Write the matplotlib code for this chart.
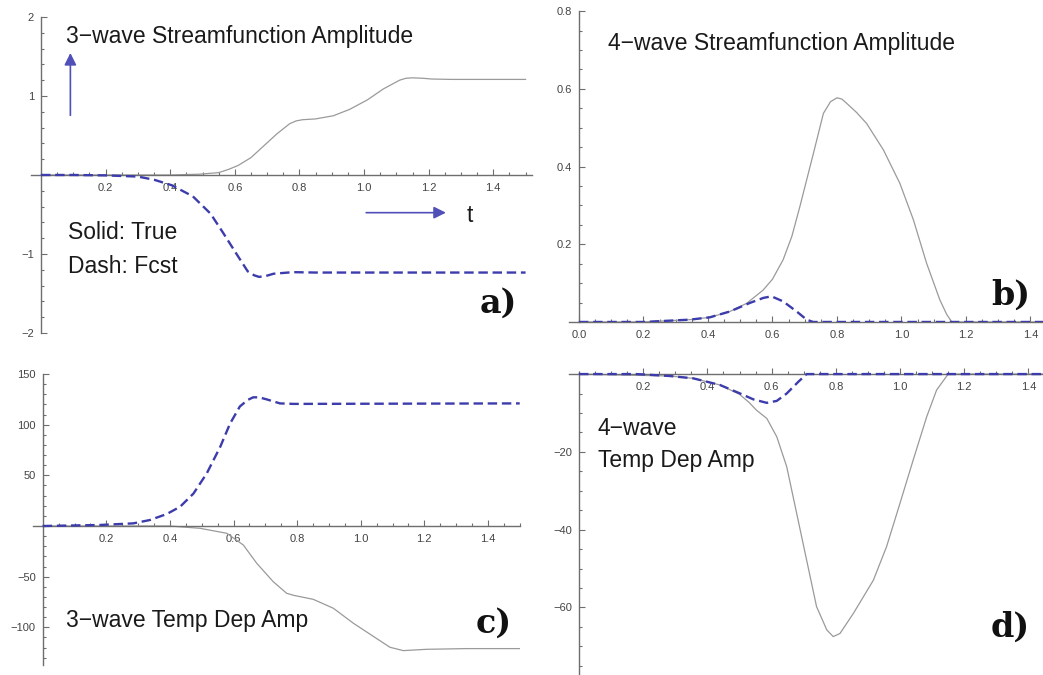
import matplotlib
matplotlib.use("Agg")
import matplotlib.pyplot as plt
from matplotlib.ticker import FixedLocator, FixedFormatter, MultipleLocator

# ---- data ----
# panel a: 3-wave streamfunction amplitude
a_true_t = [0, 0.2, 0.4, 0.49, 0.55, 0.58, 0.61, 0.65, 0.69, 0.73, 0.77, 0.79, 0.81, 0.85,
            0.905, 0.955, 1.01, 1.06, 1.11, 1.13, 1.15, 1.18, 1.21, 1.27, 1.5]
a_true = [0, 0, 0, 0.01, 0.03, 0.07, 0.12, 0.22, 0.37, 0.52, 0.65, 0.685, 0.70, 0.71,
          0.75, 0.83, 0.95, 1.09, 1.20, 1.225, 1.23, 1.225, 1.215, 1.21, 1.21]
a_fcst_t = [0, 0.1, 0.2, 0.3, 0.35, 0.405, 0.47, 0.525, 0.565, 0.61, 0.64, 0.66, 0.675,
            0.695, 0.72, 0.78, 0.85, 1.5]
a_fcst = [0, 0, -0.005, -0.02, -0.06, -0.13, -0.27, -0.49, -0.74, -1.03, -1.22, -1.27, -1.29,
          -1.28, -1.25, -1.23, -1.235, -1.235]

# panel b: 4-wave streamfunction amplitude
b_true_t = [0, 0.2, 0.344, 0.406, 0.468, 0.52, 0.571, 0.6, 0.633, 0.66, 0.685, 0.727, 0.758,
            0.78, 0.8, 0.815, 0.83, 0.86, 0.892, 0.944, 0.995, 1.037, 1.078, 1.119, 1.14,
            1.156, 1.5]
b_true = [0, 0, 0.006, 0.012, 0.027, 0.048, 0.082, 0.11, 0.16, 0.22, 0.297, 0.434, 0.537,
          0.567, 0.577, 0.574, 0.563, 0.54, 0.511, 0.443, 0.357, 0.263, 0.151, 0.057, 0.02,
          0, 0]
b_fcst_t = [0, 0.2, 0.344, 0.406, 0.468, 0.53, 0.572, 0.597, 0.633, 0.675, 0.706, 0.726, 1.5]
b_fcst = [0, 0, 0.006, 0.012, 0.027, 0.049, 0.062, 0.066, 0.053, 0.027, 0.006, 0, 0]

# panel c: 3-wave temp dep amp
c_true_t = [0, 0.3, 0.4, 0.495, 0.579, 0.631, 0.673, 0.725, 0.767, 0.79, 0.809, 0.851, 0.914,
            0.977, 1.04, 1.092, 1.134, 1.207, 1.333, 1.5]
c_true = [0, 0, 0, -2.3, -7.2, -18.8, -36.8, -55, -66.4, -68.5, -69.7, -72.4, -81.2,
          -96, -109, -119.7, -123, -121.7, -121, -121]
c_fcst_t = [0, 0.18, 0.285, 0.337, 0.39, 0.432, 0.474, 0.516, 0.558, 0.589, 0.62, 0.645,
            0.662, 0.68, 0.704, 0.746, 0.79, 1.5]
c_fcst = [0, 1, 2.6, 5.9, 11.8, 19, 32, 52, 78, 101, 118, 124.5, 127, 127, 125, 121, 120.5, 121]

# panel d: 4-wave temp dep amp
d_true_t = [0, 0.283, 0.356, 0.439, 0.5, 0.53, 0.553, 0.585, 0.616, 0.647, 0.678, 0.709,
            0.74, 0.772, 0.792, 0.813, 0.855, 0.917, 0.958, 1.0, 1.041, 1.083, 1.114, 1.15, 1.5]
d_true = [0, -0.5, -1.1, -2.8, -5.2, -7.3, -9.3, -11.4, -16.1, -23.8, -35.8, -47.8,
          -59.8, -65.8, -67.5, -66.7, -61.5, -53.0, -44.4, -33.2, -22.1, -11.0, -4.1, 0, 0]
d_fcst_t = [0, 0.18, 0.283, 0.356, 0.439, 0.502, 0.543, 0.585, 0.616, 0.647, 0.683, 0.709, 1.5]
d_fcst = [0, 0, -0.5, -1.1, -2.8, -5.0, -6.5, -7.4, -6.9, -5.0, -2.0, 0, 0]

# tick labels
a_xticks = [0.2, 0.4, 0.6, 0.8, 1.0, 1.2, 1.4]
a_yticks = [-2, -1, 1, 2]
b_xticks = [0.0, 0.2, 0.4, 0.6, 0.8, 1.0, 1.2, 1.4]
b_yticks = [0.2, 0.4, 0.6, 0.8]
c_yticks = [-100, -50, 50, 100, 150]
d_yticks = [-60, -40, -20]

TRUE_COLOR = '#9a9a9a'
FCST_COLOR = '#3c3cac'
AXIS_COLOR = '#6e6e6e'
LABEL_COLOR = '#444444'
TXT_FONT = 'Liberation Sans'

fig = plt.figure(figsize=(10.43, 6.75), dpi=100)


def setup(ax, xlim, ylim, xticks, yticks, xminor, yminor, xfmt, yfmt):
    ax.set_xlim(*xlim)
    ax.set_ylim(*ylim)
    ax.spines['left'].set_position(('data', 0))
    ax.spines['bottom'].set_position(('data', 0))
    ax.spines['top'].set_visible(False)
    ax.spines['right'].set_visible(False)
    for s in ('left', 'bottom'):
        ax.spines[s].set_color(AXIS_COLOR)
        ax.spines[s].set_linewidth(1.0)
    ax.xaxis.set_major_locator(FixedLocator(xticks))
    ax.xaxis.set_major_formatter(FixedFormatter([xfmt(v) for v in xticks]))
    ax.yaxis.set_major_locator(FixedLocator(yticks))
    ax.yaxis.set_major_formatter(FixedFormatter([yfmt(v) for v in yticks]))
    ax.xaxis.set_minor_locator(MultipleLocator(xminor))
    ax.yaxis.set_minor_locator(MultipleLocator(yminor))
    ax.tick_params(which='both', direction='in', color=AXIS_COLOR, width=0.8)
    ax.tick_params(which='major', length=4)
    ax.tick_params(which='minor', length=2)
    ax.tick_params(axis='x', pad=6, labelsize=8, labelcolor=LABEL_COLOR)
    ax.tick_params(axis='y', pad=5, labelsize=8, labelcolor=LABEL_COLOR)
    for lab in ax.get_xticklabels() + ax.get_yticklabels():
        lab.set_fontfamily(TXT_FONT)
    ax.patch.set_visible(False)


def curves(ax, tt, yt, tf, yf):
    ax.plot(tt, yt, color=TRUE_COLOR, lw=0.9, zorder=2)
    ax.plot(tf, yf, color=FCST_COLOR, lw=1.7, dashes=(4, 2), zorder=3)


f1 = lambda v: '%.1f' % v
fi = lambda v: ('%d' % v).replace('-', '\u2212')

# a)
ax_a = fig.add_axes([0.0300, 0.5067, 0.4801, 0.4681])
setup(ax_a, (-0.03, 1.52), (-2, 2), a_xticks, a_yticks, 0.05, 0.2, f1, fi)
curves(ax_a, a_true_t, a_true, a_fcst_t, a_fcst)
ax_a.annotate('', xy=(0.091, 1.58), xytext=(0.091, 0.72),
              arrowprops=dict(arrowstyle='-|>', color='#5050b8', lw=1.2, mutation_scale=18))
ax_a.annotate('', xy=(1.262, -0.477), xytext=(0.998, -0.477),
              arrowprops=dict(arrowstyle='-|>', color='#5050b8', lw=1.2, mutation_scale=18))

# b)
ax_b = fig.add_axes([0.5458, 0.5230, 0.4731, 0.4604])
setup(ax_b, (-0.03, 1.5), (0, 0.8), b_xticks, b_yticks, 0.05, 0.05, f1, f1)
curves(ax_b, b_true_t, b_true, b_fcst_t, b_fcst)

# c)
ax_c = fig.add_axes([0.0318, 0.0151, 0.4665, 0.4308])
setup(ax_c, (-0.03, 1.5), (-137, 150), a_xticks, c_yticks, 0.05, 10, f1, fi)
curves(ax_c, c_true_t, c_true, c_fcst_t, c_fcst)

# d)
ax_d = fig.add_axes([0.5459, -0.0030, 0.4709, 0.4517])
setup(ax_d, (-0.03, 1.5), (-77.9, 0.5), a_xticks, d_yticks, 0.05, 5, f1, fi)
curves(ax_d, d_true_t, d_true, d_fcst_t, d_fcst)


def ftxt(xpx, ypx, s, **kw):
    fig.text(xpx / 1043, 1 - ypx / 675, s, va='baseline', **kw)


txt = dict(fontsize=16.5, family=TXT_FONT, color='#1a1a1a')
lab = dict(fontsize=24, family='DejaVu Serif', weight='bold', color='#111111', ha='right')

ftxt(66, 43, '3\u2212wave Streamfunction Amplitude', **txt)
ftxt(68, 239, 'Solid: True', **txt)
ftxt(68, 273, 'Dash: Fcst', **txt)
ftxt(467, 222, 't', **txt)
ftxt(517, 313, 'a)', **lab)

ftxt(608, 50, '4\u2212wave Streamfunction Amplitude', **txt)
ftxt(1030, 305, 'b)', **lab)

ftxt(66, 627, '3\u2212wave Temp Dep Amp', **txt)
ftxt(512, 633, 'c)', **lab)

ftxt(598, 435, '4\u2212wave', **txt)
ftxt(598, 467, 'Temp Dep Amp', **txt)
ftxt(1030, 637, 'd)', **lab)

fig.savefig('out.png', dpi=100)
